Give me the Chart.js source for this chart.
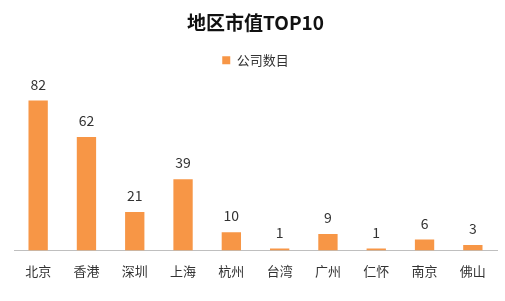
<!DOCTYPE html>
<html>
<head>
<meta charset="utf-8">
<script src="https://cdn.jsdelivr.net/npm/chart.js@4/dist/chart.umd.min.js"></script>
<style>
  html, body { margin: 0; padding: 0; background: #fff; }
  #wrap { width: 505px; height: 301px; position: relative; }
</style>
</head>
<body>
<div id="wrap"><canvas id="regionChart" width="505" height="301"></canvas></div>
<script>
const regions = ["北京", "香港", "深圳", "上海", "杭州", "台湾", "广州", "仁怀", "南京", "佛山"];
const companyCounts = [82, 62, 21, 39, 10, 1, 9, 1, 6, 3];
const seriesName = "公司数目";
const chartTitle = "地区市值TOP10";

const FONT = "'Noto Sans CJK SC', 'Noto Sans', sans-serif";
const ORANGE = "#F79646";

// value labels above each bar
const valueLabels = {
  id: "valueLabels",
  afterDatasetsDraw(chart) {
    const ctx = chart.ctx;
    const meta = chart.getDatasetMeta(0);
    ctx.save();
    ctx.font = "14px " + FONT;
    ctx.fillStyle = "#333";
    ctx.textAlign = "center";
    ctx.textBaseline = "middle";
    meta.data.forEach((bar, i) => {
      ctx.fillText(String(companyCounts[i]), bar.x, bar.y - 16);
    });
    ctx.restore();
  }
};

new Chart(document.getElementById("regionChart"), {
  type: "bar",
  data: {
    labels: regions,
    datasets: [{
      label: seriesName,
      data: companyCounts,
      backgroundColor: ORANGE,
      barPercentage: 0.4,
      categoryPercentage: 1
    }]
  },
  options: {
    responsive: false,
    animation: false,
    layout: { padding: { left: 14, right: 8, top: 0, bottom: 17 } },
    plugins: {
      title: {
        display: true,
        text: chartTitle,
        color: "#111",
        font: { family: FONT, size: 19, weight: "bold" },
        padding: { top: 11, bottom: 12 }
      },
      legend: {
        display: true,
        labels: {
          boxWidth: 8,
          boxHeight: 8,
          color: "#333",
          font: { family: FONT, size: 13 },
          padding: 8
        }
      },
      tooltip: { enabled: false }
    },
    scales: {
      x: {
        grid: { display: false },
        border: { color: "#BFBFBF" },
        ticks: { color: "#333", font: { family: FONT, size: 13 }, padding: 5 }
      },
      y: {
        display: false,
        min: 0,
        max: 95
      }
    }
  },
  plugins: [valueLabels]
});
</script>
</body>
</html>
